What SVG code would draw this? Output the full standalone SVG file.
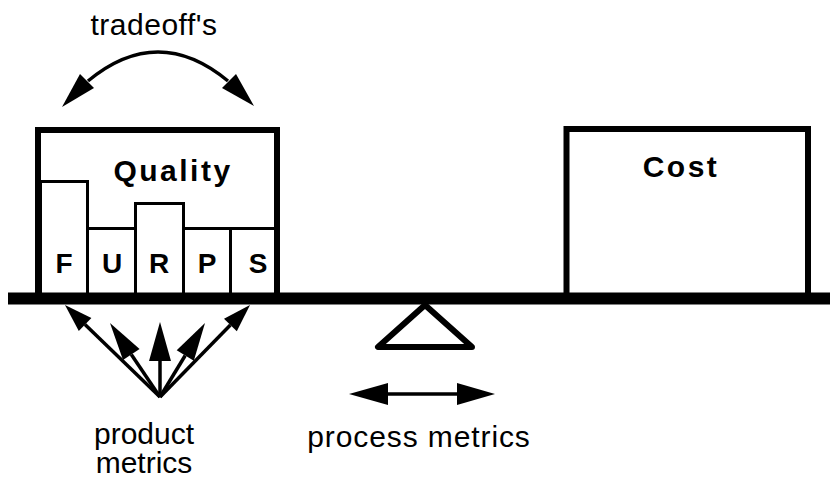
<svg xmlns="http://www.w3.org/2000/svg" width="830" height="484" viewBox="0 0 830 484">
<style>
.lbl{font-family:"Liberation Sans",Arial,sans-serif;font-size:30px;fill:#000;text-anchor:middle}
.bold{font-weight:bold;letter-spacing:2.5px}
.furps{font-family:"Liberation Sans",Arial,sans-serif;font-size:28px;font-weight:bold;fill:#000;text-anchor:middle}
.box{fill:#fff;stroke:#000;stroke-width:6;stroke-linejoin:miter}
.bar{fill:#fff;stroke:#000;stroke-width:3}
.ln{fill:none;stroke:#000;stroke-width:3.5}
.head{fill:#000;stroke:none}
</style>
<rect width="830" height="484" fill="#fff"/>
<g id="quality">
<path class="box" d="M38,293 V130 H277 V293"/>
<path class="bar" d="M40.5,293 V181.5 H87.5 V293 M87.5,228.5 H135.5 V293 M135.5,228.5 V203.5 H183.5 V293 M183.5,228.5 H230.5 V293 M230.5,228.5 H275"/>
<text class="lbl bold" x="173" y="181">Quality</text>
<text class="furps" x="64" y="273">F</text>
<text class="furps" x="112" y="273">U</text>
<text class="furps" x="159" y="273">R</text>
<text class="furps" x="207" y="273">P</text>
<text class="furps" x="258" y="273">S</text>
</g>
<g id="cost">
<path class="box" d="M566.5,293 V129 H808 V293"/>
<text class="lbl bold" x="681" y="177">Cost</text>
</g>
<g id="beam">
<rect x="8" y="292.5" width="822" height="12" fill="#000"/>
</g>
<g id="fulcrum">
<polygon points="425,305 378,347 472,347" fill="#fff" stroke="#000" stroke-width="6" stroke-linejoin="round"/>
</g>
<g id="tradeoffs">
<text class="lbl" x="154" y="35" style="letter-spacing:0.5px">tradeoff's</text>
</g>
<g id="product-metrics">
<text class="lbl" x="144" y="444">product</text>
<text class="lbl" x="144" y="473">metrics</text>
</g>
<g id="process-metrics">
<text class="lbl" x="419" y="447" style="letter-spacing:0.9px">process metrics</text>
</g>
<g id="connectors">
<path class="ln" stroke-width="4" d="M88,81 Q158,23 228,81"/>
<polygon class="head" points="62,107 80,74 94,88"/>
<polygon class="head" points="254,106 236,74 222,88"/>
<line class="ln" x1="160" y1="397" x2="85" y2="324.5"/>
<polygon class="head" points="65,305 91.4,318 78.8,331"/>
<line class="ln" x1="160" y1="397" x2="131.3" y2="354.5"/>
<polygon class="head" points="110,323 139.6,348.9 123,360.1"/>
<line class="ln" x1="160" y1="397" x2="160" y2="360"/>
<polygon class="head" points="160,322 149,361 171,361"/>
<line class="ln" x1="160" y1="397" x2="185.2" y2="355.5"/>
<polygon class="head" points="205,323 193.8,360.7 176.7,350.3"/>
<line class="ln" x1="160" y1="397" x2="230.4" y2="325"/>
<polygon class="head" points="250,305 236.8,331.3 224,318.7"/>
<line class="ln" x1="385" y1="394" x2="460" y2="394"/>
<polygon class="head" points="349,394 388,383 388,405"/>
<polygon class="head" points="495,394 457,383 457,405"/>
</g>
</svg>
